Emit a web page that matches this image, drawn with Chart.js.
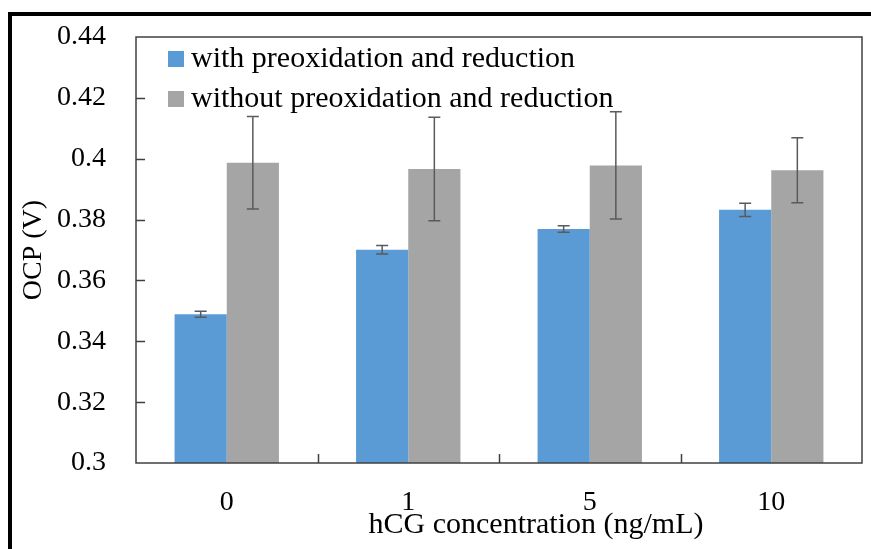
<!DOCTYPE html>
<html>
<head>
<meta charset="utf-8">
<script src="https://cdn.jsdelivr.net/npm/chart.js@4"></script>
<style>
    body { margin: 0; background: #fff; }
    #wrap { width: 871px; height: 549px; }
</style>
</head>
<body>
<div id="wrap"><canvas id="myChart" width="871" height="549"></canvas></div>
<script>
//OCP of the electrode at each hCG concentration
//==============================================
var categories = ["0", "1", "5", "10"];
var seriesNames = ["with preoxidation and reduction", "without preoxidation and reduction"];
var withValues = [0.3489, 0.3701, 0.3769, 0.3832];
var withErrors = [0.0010, 0.0014, 0.0011, 0.0022];
var withoutValues = [0.3987, 0.3966, 0.3978, 0.3962];
var withoutErrors = [0.0152, 0.0170, 0.0176, 0.0107];
var yTicks = [0.3, 0.32, 0.34, 0.36, 0.38, 0.4, 0.42, 0.44];
var xTitle = "hCG concentration (ng/mL)";
var yTitle = "OCP (V)";

var FONT = "'Liberation Serif', 'Times New Roman', serif";

window.onload = main;
var ctx;

//outer frame (top and left edges only, like the source picture)
var framePlugin = {
    id: 'frame',
    beforeDraw: function (chart) {
        var c = chart.ctx;
        c.save();
        c.fillStyle = "#fff";
        c.fillRect(0, 0, chart.width, chart.height);
        c.fillStyle = "#000";
        c.fillRect(8, 12, chart.width - 8, 4);
        c.fillRect(8, 12, 4, chart.height - 12);
        c.restore();
    }
};

//error bars, plot box, inward ticks, legend and x title
var extrasPlugin = {
    id: 'extras',
    afterDatasetsDraw: function (chart) {
        var c = chart.ctx;
        var y = chart.scales.y;
        var x = chart.scales.x;
        var area = chart.chartArea;
        c.save();

        //error bars
        c.strokeStyle = "#5a5a5a";
        c.lineWidth = 1.5;
        chart.data.datasets.forEach(function (ds, di) {
            var meta = chart.getDatasetMeta(di);
            meta.data.forEach(function (bar, i) {
                var top = y.getPixelForValue(ds.data[i] + ds.errors[i]);
                var bot = y.getPixelForValue(ds.data[i] - ds.errors[i]);
                c.beginPath();
                c.moveTo(bar.x, top);
                c.lineTo(bar.x, bot);
                c.moveTo(bar.x - 6, top);
                c.lineTo(bar.x + 6, top);
                c.moveTo(bar.x - 6, bot);
                c.lineTo(bar.x + 6, bot);
                c.stroke();
            });
        });

        //plot box
        c.strokeStyle = "#404040";
        c.lineWidth = 1.5;
        c.strokeRect(area.left, area.top, area.right - area.left, area.bottom - area.top);

        //y ticks pointing in
        c.beginPath();
        yTicks.forEach(function (v) {
            var py = Math.round(y.getPixelForValue(v)) + 0.5;
            if (py > area.top + 2 && py < area.bottom - 2) {
                c.moveTo(area.left, py);
                c.lineTo(area.left + 9, py);
            }
        });
        //x ticks between the categories
        for (var i = 0; i < categories.length - 1; i++) {
            var px = Math.round((x.getPixelForValue(i) + x.getPixelForValue(i + 1)) / 2) + 0.5;
            c.moveTo(px, area.bottom);
            c.lineTo(px, area.bottom - 9);
        }
        c.stroke();

        //legend
        c.font = "30px " + FONT;
        c.textBaseline = "alphabetic";
        c.textAlign = "left";
        chart.data.datasets.forEach(function (ds, di) {
            var base = 67 + di * 40;
            c.fillStyle = ds.backgroundColor;
            c.fillRect(168, base - 16, 16, 16);
            c.fillStyle = "#000";
            c.fillText(ds.label, 191, base);
        });

        //x title, sits a bit right of the plot centre in the source
        c.textAlign = "center";
        c.textBaseline = "middle";
        c.fillText(xTitle, 536, 525);
        c.restore();
    }
};

function main() {
    ctx = document.getElementById("myChart").getContext("2d");
    new Chart(ctx, {
        type: 'bar',
        data: {
            labels: categories,
            datasets: [
                {
                    label: seriesNames[0],
                    data: withValues,
                    errors: withErrors,
                    backgroundColor: "#5b9bd5",
                    categoryPercentage: 0.575,
                    barPercentage: 1.0
                },
                {
                    label: seriesNames[1],
                    data: withoutValues,
                    errors: withoutErrors,
                    backgroundColor: "#a5a5a5",
                    categoryPercentage: 0.575,
                    barPercentage: 1.0
                }]
        },
        options: {
            responsive: false,
            animation: false,
            layout: {
                padding: {top: 37, right: 9, left: 0, bottom: 0}
            },
            plugins: {
                legend: {display: false},
                tooltip: {enabled: false}
            },
            scales: {
                x: {
                    grid: {display: false, drawTicks: false},
                    border: {display: false},
                    ticks: {
                        color: "#000",
                        padding: 23,
                        font: {family: FONT, size: 28}
                    },
                    afterFit: function (scale) {
                        scale.height = 86;
                        scale.paddingLeft = 0;
                        scale.paddingRight = 0;
                    }
                },
                y: {
                    min: 0.3,
                    max: 0.44,
                    grid: {display: false, drawTicks: false},
                    border: {display: false},
                    afterBuildTicks: function (scale) {
                        scale.ticks = yTicks.map(function (v) { return {value: v}; });
                    },
                    ticks: {
                        color: "#000",
                        padding: 30,
                        font: {family: FONT, size: 28},
                        callback: function (v) {
                            return String(parseFloat(Number(v).toFixed(2)));
                        }
                    },
                    title: {
                        display: true,
                        text: yTitle,
                        color: "#000",
                        padding: {top: 17, bottom: 0},
                        font: {family: FONT, size: 28}
                    },
                    afterFit: function (scale) {
                        scale.width = 136;
                        scale.paddingTop = 0;
                        scale.paddingBottom = 0;
                    }
                }
            }
        },
        plugins: [framePlugin, extrasPlugin]
    });
}
</script>
</body>
</html>
